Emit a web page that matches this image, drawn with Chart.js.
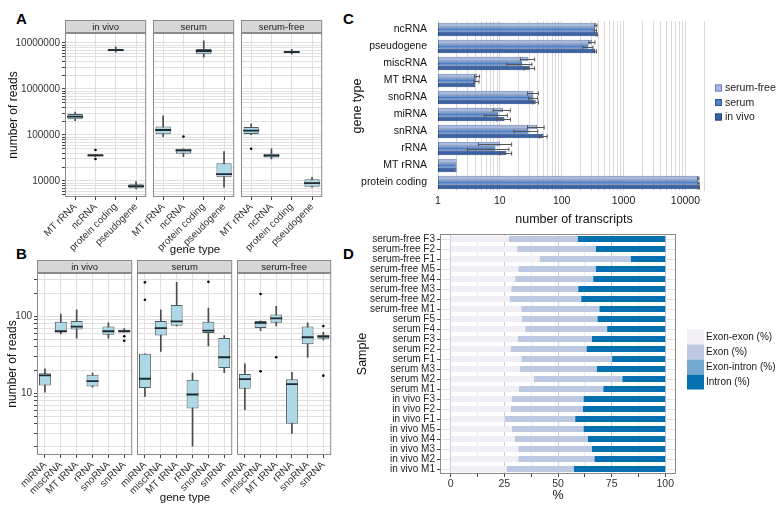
<!DOCTYPE html>
<html>
<head>
<meta charset="utf-8">
<script src="https://cdn.jsdelivr.net/npm/chart.js@4.4.1/dist/chart.umd.min.js"></script>
<style>
  body { margin: 0; width: 778px; height: 506px; position: relative; overflow: hidden; background: #fff; font-family: "Liberation Sans", Arial, sans-serif; }
  canvas { position: absolute; }
  .tag { position: absolute; font-weight: bold; font-size: 15px; color: #000; line-height: 1; }
  .ttl { position: absolute; font-size: 11.5px; color: #111; transform: translate(-50%, -50%); white-space: nowrap; }
</style>
</head>
<body>
<div class="tag" style="left:16px;top:11px">A</div>
<div class="tag" style="left:16px;top:246px">B</div>
<div class="tag" style="left:343px;top:11px">C</div>
<div class="tag" style="left:343px;top:246px">D</div>

<canvas id="a0" width="156" height="233" style="left:0px;top:19px"></canvas>
<canvas id="a1" width="136" height="233" style="left:108px;top:19px"></canvas>
<canvas id="a2" width="136" height="233" style="left:196px;top:19px"></canvas>
<div class="ttl" style="left:195px;top:249px">gene type</div>

<canvas id="b0" width="140" height="236" style="left:0px;top:259px"></canvas>
<canvas id="b1" width="148" height="236" style="left:92px;top:259px"></canvas>
<canvas id="b2" width="147" height="236" style="left:192px;top:259px"></canvas>
<div class="ttl" style="left:185px;top:497px">gene type</div>

<canvas id="cC" width="433" height="232" style="left:345px;top:0px"></canvas>
<canvas id="cD" width="433" height="280" style="left:345px;top:226px"></canvas>

<script>
// ---- data ----
const conditions = ['in vivo', 'serum', 'serum-free'];

// Panel A: reads per gene type, box stats = [low whisker, q1, median, q3, high whisker]
const genesA = ['MT rRNA', 'ncRNA', 'protein coding', 'pseudogene'];
const boxA_vivo = [[205000, 219000, 250000, 286000, 316000], [33900, 33900, 36000, 38000, 38000], [6300000, 6600000, 7000000, 7400000, 8300000], [6700, 6900, 7700, 8500, 9700]];
const boxA_serum = [[92000, 103000, 128000, 152000, 260000], [33900, 39000, 46000, 50000, 50000], [4900000, 5700000, 6700000, 7400000, 11200000], [7300, 12000, 14100, 24300, 43600]];
const boxA_free = [[101000, 105000, 124000, 149000, 174000], [30000, 32500, 35500, 39000, 49600], [5800000, 6060000, 6360000, 6700000, 7300000], [7300, 7500, 9000, 10900, 12000]];
const outA_vivo = [[], [47000, 30000], [], []];
const outA_serum = [[], [92000], [], []];
const outA_free = [[50000], [], [], []];

// Panel B
const genesB = ['miRNA', 'miscRNA', 'MT tRNA', 'rRNA', 'snoRNA', 'snRNA'];
const boxB_vivo = [[10.3, 12.6, 17, 18.2, 20.7], [59, 62, 63.8, 85, 107], [52, 67, 73.5, 87, 121], [12, 12.2, 14.3, 17.3, 18.2], [52, 57.5, 63.8, 73.5, 82], [62, 62, 63.8, 66.6, 69]];
const boxB_serum = [[9.1, 11.7, 15.4, 32.5, 32.5], [35, 56, 70, 87, 121], [75, 75, 86, 140, 276], [2.05, 6.3, 9.6, 14.9, 18.2], [41, 60.7, 65, 85, 128], [18.4, 21.3, 29.3, 52, 56]];
const boxB_free = [[6.1, 11.4, 15.2, 17.8, 24], [65, 70.5, 82, 87, 87], [75, 82, 94, 105, 135], [3.0, 4.0, 13.1, 15.2, 18.7], [29.3, 43.3, 53.3, 73.5, 82], [49.4, 50.9, 54.5, 57.5, 62]];
const outB_vivo = [[], [], [], [], [], [55, 48]];
const outB_serum = [[276, 164], [], [], [], [280], []];
const outB_free = [[], [195, 19.3], [29.3], [], [], [74.5, 16.9]];

// Panel C: number of transcripts
const genesC = ['ncRNA', 'pseudogene', 'miscRNA', 'MT tRNA', 'snoRNA', 'miRNA', 'snRNA', 'rRNA', 'MT rRNA', 'protein coding'];
const seriesC = ['serum-free', 'serum', 'in vivo'];
const transFree = [357, 310, 29, 4.3, 35, 11.3, 40, 10, 2, 16200];
const transSerum = [350, 270, 23, 4.2, 35, 9.4, 29, 8.5, 2, 16300];
const transVivo = [370, 350, 30.5, 4.0, 38, 11.9, 51, 12.8, 2, 16500];
const errFree = [15, 35, 7.5, 0.4, 7, 3.5, 12, 5.5, 0, 400];
const errSerum = [15, 50, 10, 0.4, 6, 3.8, 12, 5.5, 0, 400];
const errVivo = [10, 15, 6, 0, 4, 3, 7, 2.7, 0, 400];

// Panel D: read distribution per sample (%)
const samplesD = ['serum-free F3', 'serum-free F2', 'serum-free F1', 'serum-free M5', 'serum-free M4', 'serum-free M3', 'serum-free M2', 'serum-free M1',
  'serum F5', 'serum F4', 'serum F3', 'serum F2', 'serum F1', 'serum M3', 'serum M2', 'serum M1',
  'in vivo F3', 'in vivo F2', 'in vivo F1', 'in vivo M5', 'in vivo M4', 'in vivo M3', 'in vivo M2', 'in vivo M1'];
const exonExon = [27, 31, 41.4, 31.5, 30, 28.2, 27.4, 32.9, 33, 34.7, 31.2, 27.9, 32.9, 32.1, 38.8, 31.8, 28.5, 27.9, 25.1, 28.5, 29.9, 31.5, 31.5, 26];
const exon = [32, 36.4, 42.3, 35.9, 36.2, 31, 33.2, 36.2, 35.2, 38, 34.4, 35.2, 42.1, 35.8, 41, 39.1, 33.2, 33.5, 32.7, 33.2, 33.8, 34.1, 35.3, 31.2];
const exonIntron = [0.2, 0.2, 0.2, 0.2, 0.2, 0.2, 0.2, 0.2, 0.2, 0.2, 0.2, 0.2, 0.2, 0.2, 0.2, 0.2, 0.2, 0.2, 0.2, 0.2, 0.2, 0.2, 0.2, 0.2];
const intron = [40.8, 32.4, 16.1, 32.4, 33.6, 40.6, 39.2, 30.7, 31.6, 27.1, 34.2, 36.7, 24.8, 31.9, 20, 28.9, 38.1, 38.4, 42, 38.1, 36.1, 34.2, 33, 42.6];

// ---- helpers ----
Chart.defaults.font.family = '"Liberation Sans", Arial, sans-serif';
Chart.defaults.animation = false;
const GRID = '#e0e0e0';

function logTicks(min, max) {
  const out = [];
  for (let e = Math.floor(Math.log10(min)); e <= Math.ceil(Math.log10(max)); e++) {
    for (let k = 1; k <= 9; k++) {
      const v = k * Math.pow(10, e);
      if (v >= min && v <= max) out.push(v);
    }
  }
  return out;
}
const isDecade = v => Math.abs(Math.log10(v) - Math.round(Math.log10(v))) < 1e-6;

// grey frame round the plot area, plus facet strip on top
const panelFrame = {
  id: 'panelFrame',
  afterDraw(chart, args, opts) {
    const { ctx, chartArea: a } = chart;
    ctx.save();
    ctx.strokeStyle = '#8a8a8a';
    ctx.lineWidth = 1;
    ctx.strokeRect(a.left + 0.5, a.top + 0.5, a.width - 1, a.height - 1);
    if (opts.strip) {
      ctx.fillStyle = '#d6d6d6';
      ctx.fillRect(a.left + 0.5, a.top - 12.5, a.width - 1, 12);
      ctx.strokeRect(a.left + 0.5, a.top - 12.5, a.width - 1, 12);
      ctx.fillStyle = '#1a1a1a';
      ctx.font = '9.5px "Liberation Sans", Arial, sans-serif';
      ctx.textAlign = 'center';
      ctx.textBaseline = 'middle';
      ctx.fillText(opts.strip, (a.left + a.right) / 2, a.top - 6);
    }
    ctx.restore();
  }
};

// error bars for panel C
const errorBars = {
  id: 'errorBars',
  afterDatasetsDraw(chart) {
    const ctx = chart.ctx, xs = chart.scales.x;
    ctx.save();
    ctx.strokeStyle = '#555';
    ctx.lineWidth = 1;
    chart.data.datasets.forEach((ds, i) => {
      chart.getDatasetMeta(i).data.forEach((bar, j) => {
        const e = ds.errors[j];
        if (!e) return;
        const v = ds.data[j];
        const x1 = xs.getPixelForValue(Math.max(v - e, 1)), x2 = xs.getPixelForValue(v + e);
        const y = Math.round(bar.y) + 0.5, c = bar.height * 0.45;
        ctx.beginPath();
        ctx.moveTo(x1, y); ctx.lineTo(x2, y);
        ctx.moveTo(x1, y - c); ctx.lineTo(x1, y + c);
        ctx.moveTo(x2, y - c); ctx.lineTo(x2, y + c);
        ctx.stroke();
      });
    });
    ctx.restore();
  }
};

// legend placed at a fixed spot beside the plot
const sideLegend = {
  id: 'sideLegend',
  afterDraw(chart, args, o) {
    const ctx = chart.ctx;
    ctx.save();
    ctx.font = o.font + 'px "Liberation Sans", Arial, sans-serif';
    ctx.textBaseline = 'middle';
    chart.data.datasets.forEach((ds, i) => {
      const y = o.y + i * o.step;
      ctx.fillStyle = ds.backgroundColor;
      ctx.fillRect(o.x, y, o.w, o.h);
      if (o.border) {
        ctx.strokeStyle = ds.borderColor;
        ctx.strokeRect(o.x + 0.5, y + 0.5, o.w - 1, o.h - 1);
      }
      ctx.fillStyle = '#1a1a1a';
      ctx.fillText(ds.label, o.x + o.w + o.gap, y + o.h / 2 + 0.5);
    });
    ctx.restore();
  }
};

function boxFacet(id, c) {
  const outPts = [];
  c.out.forEach((vals, i) => vals.forEach(v => outPts.push({ x: c.labels[i], y: v })));
  new Chart(document.getElementById(id), {
    type: 'bar',
    data: {
      labels: c.labels,
      datasets: [
        { data: c.box.map(b => [b[0], b[4]]), backgroundColor: '#4a4a4a', barThickness: 1, grouped: false, order: 4 },
        { data: c.box.map(b => [b[1], b[3]]), backgroundColor: '#add8e6', borderColor: '#4f5a60', borderWidth: 1,
          borderSkipped: false, barPercentage: 0.75, categoryPercentage: 1, grouped: false, order: 3 },
        { type: 'line', data: c.box.map(b => b[2]), showLine: false, pointStyle: 'line', pointRadius: c.halfW,
          pointBorderColor: '#1e2a30', borderColor: '#1e2a30', pointBorderWidth: 1.8, order: 2 },
        { type: 'line', data: outPts, showLine: false, pointRadius: 1.3, pointBackgroundColor: '#000',
          pointBorderWidth: 0, order: 1 }
      ]
    },
    options: {
      responsive: false,
      layout: { padding: { left: c.padL, right: 6, top: 14, bottom: 0 } },
      plugins: { legend: { display: false }, tooltip: { enabled: false }, panelFrame: { strip: c.strip } },
      scales: {
        x: {
          grid: { color: GRID, offset: false, tickLength: 3, tickColor: '#444' },
          border: { display: false },
          ticks: { autoSkip: false, maxRotation: 45, minRotation: 45, font: { size: 10 }, color: '#333', padding: 1 },
          afterFit: s => { s.height = c.xHeight; }
        },
        y: {
          type: 'logarithmic', min: c.yMin, max: c.yMax,
          grid: { color: GRID, drawTicks: c.yAxis, tickLength: 3, tickColor: '#444' },
          border: { display: false },
          ticks: { display: c.yAxis, autoSkip: false, font: { size: 10 }, color: '#333', padding: 2,
            callback: v => isDecade(v) ? String(Math.round(v)) : '' },
          title: { display: c.yAxis, text: 'number of reads', font: { size: 12 }, color: '#111', padding: { top: c.titlePad, bottom: 0 } },
          afterBuildTicks: s => { s.ticks = logTicks(c.yMin, c.yMax).map(v => ({ value: v })); },
          afterFit: s => { s.width = c.yWidth; }
        }
      }
    },
    plugins: [panelFrame]
  });
}

// ---- panel A ----
const aRange = { yMin: 4470, yMax: 1.65e7, halfW: 8, xHeight: 55 };
boxFacet('a0', { ...aRange, labels: genesA, box: boxA_vivo, out: outA_vivo, strip: conditions[0], padL: 0, yWidth: 65, yAxis: true, titlePad: 6 });
boxFacet('a1', { ...aRange, labels: genesA, box: boxA_serum, out: outA_serum, strip: conditions[1], padL: 45, yWidth: 0, yAxis: false });
boxFacet('a2', { ...aRange, labels: genesA, box: boxA_free, out: outA_free, strip: conditions[2], padL: 45, yWidth: 0, yAxis: false });

// ---- panel B ----
const bRange = { yMin: 1.57, yMax: 365, halfW: 6, xHeight: 40 };
boxFacet('b0', { ...bRange, labels: genesB, box: boxB_vivo, out: outB_vivo, strip: conditions[0], padL: 0, yWidth: 37, yAxis: true, titlePad: 5 });
boxFacet('b1', { ...bRange, labels: genesB, box: boxB_serum, out: outB_serum, strip: conditions[1], padL: 45, yWidth: 0, yAxis: false });
boxFacet('b2', { ...bRange, labels: genesB, box: boxB_free, out: outB_free, strip: conditions[2], padL: 45, yWidth: 0, yAxis: false });

// ---- panel C ----
new Chart(document.getElementById('cC'), {
  type: 'bar',
  data: {
    labels: genesC,
    datasets: [
      { label: seriesC[0], data: transFree, errors: errFree, backgroundColor: '#a6b9de', borderColor: '#6c83ae', borderWidth: 1 },
      { label: seriesC[1], data: transSerum, errors: errSerum, backgroundColor: '#4f7fc6', borderColor: '#2f5a9a', borderWidth: 1 },
      { label: seriesC[2], data: transVivo, errors: errVivo, backgroundColor: '#3a62a5', borderColor: '#23467f', borderWidth: 1 }
    ]
  },
  options: {
    indexAxis: 'y',
    responsive: false,
    layout: { padding: { left: 0, right: 68, top: 21, bottom: 0 } },
    datasets: { bar: { categoryPercentage: 0.8, barPercentage: 1, borderSkipped: false } },
    plugins: {
      legend: { display: false }, tooltip: { enabled: false },
      sideLegend: { x: 370, y: 84.5, step: 14.5, w: 7, h: 7, gap: 3, font: 10.5, border: true }
    },
    scales: {
      x: {
        type: 'logarithmic', min: 1, max: 25000,
        grid: { color: '#d9d9d9', drawTicks: false },
        border: { display: false },
        ticks: { autoSkip: false, maxRotation: 0, minRotation: 0, font: { size: 10.5 }, color: '#222', padding: 4,
          callback: v => isDecade(v) ? String(Math.round(v)) : '' },
        title: { display: true, text: 'number of transcripts', font: { size: 12.5 }, color: '#111', padding: { top: 0, bottom: 5 } },
        afterBuildTicks: s => { s.ticks = logTicks(1, 25000).map(v => ({ value: v })); },
        afterFit: s => { s.height = 41; }
      },
      y: {
        grid: { display: false },
        border: { display: false },
        ticks: { font: { size: 10.5 }, color: '#111', padding: 3 },
        title: { display: true, text: 'gene type', font: { size: 12.5 }, color: '#111', padding: { top: 5, bottom: 0 } },
        afterFit: s => { s.width = 93; }
      }
    }
  },
  plugins: [errorBars, sideLegend]
});

// ---- panel D ----
new Chart(document.getElementById('cD'), {
  type: 'bar',
  data: {
    labels: samplesD,
    datasets: [
      { label: 'Exon-exon (%)', data: exonExon, backgroundColor: '#f1eef6' },
      { label: 'Exon (%)', data: exon, backgroundColor: '#bdc9e1' },
      { label: 'Exon-intron (%)', data: exonIntron, backgroundColor: '#74a9cf' },
      { label: 'Intron (%)', data: intron, backgroundColor: '#0570b0' }
    ]
  },
  options: {
    indexAxis: 'y',
    responsive: false,
    layout: { padding: { left: 0, right: 102, top: 6, bottom: 0 } },
    datasets: { bar: { categoryPercentage: 1, barPercentage: 0.62 } },
    plugins: {
      legend: { display: false }, tooltip: { enabled: false }, panelFrame: {},
      sideLegend: { x: 342, y: 103.5, step: 15, w: 17, h: 15, gap: 2, font: 10, border: false }
    },
    scales: {
      x: {
        stacked: true, min: -5, max: 105,
        grid: { color: ctx => (ctx.tick && ctx.tick.value % 25 === 0) ? '#cfcfcf' : '#ececec', tickLength: 3, tickColor: '#444' },
        border: { display: false },
        ticks: { autoSkip: false, maxRotation: 0, font: { size: 10.5 }, color: '#333', padding: 1,
          callback: v => v % 25 === 0 ? String(v) : '' },
        title: { display: true, text: '%', font: { size: 12.5 }, color: '#111', padding: { top: 0, bottom: 3 } },
        afterBuildTicks: s => { s.ticks = [0, 12.5, 25, 37.5, 50, 62.5, 75, 87.5, 100].map(v => ({ value: v })); },
        afterFit: s => { s.height = 32; }
      },
      y: {
        stacked: true,
        grid: { color: '#e3e3e3', offset: false, tickLength: 3, tickColor: '#444' },
        border: { display: false },
        ticks: { autoSkip: false, font: { size: 10 }, color: '#222', padding: 2 },
        title: { display: true, text: 'Sample', font: { size: 12.5 }, color: '#111', padding: { top: 10, bottom: 0 } },
        afterFit: s => { s.width = 95; }
      }
    }
  },
  plugins: [panelFrame, sideLegend]
});
</script>
</body>
</html>
